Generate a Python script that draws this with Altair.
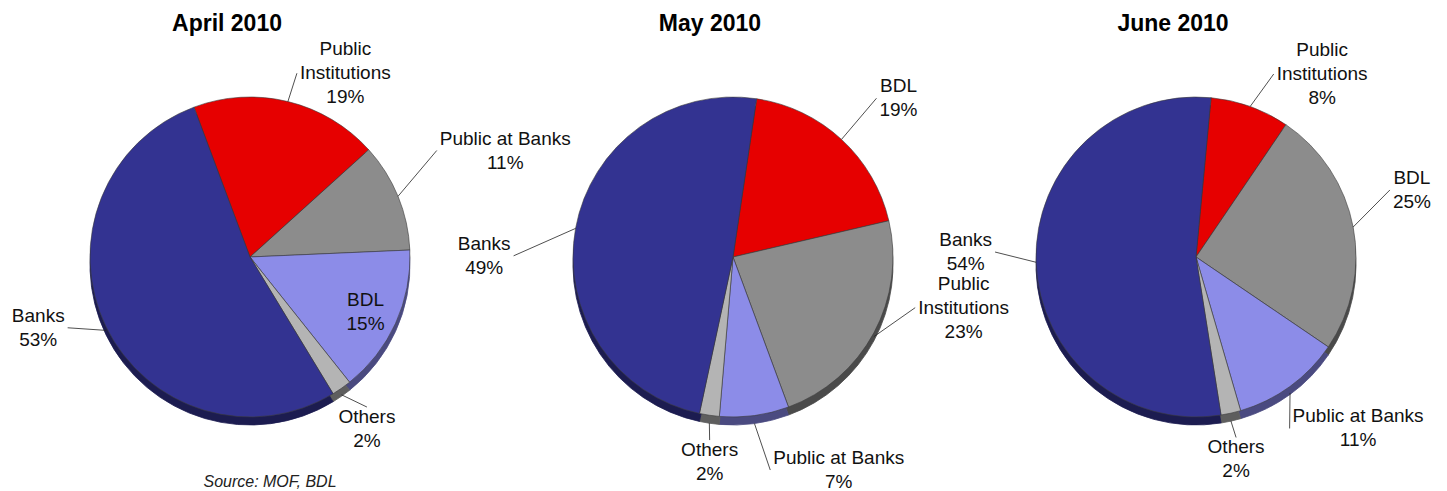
import json
import math

import altair as alt
import pandas as pd

# ---------------- data ----------------
MONTHS = ["April 2010", "May 2010", "June 2010"]

APRIL_CATEGORIES = ["Public Institutions", "Public at Banks", "BDL", "Others", "Banks"]
APRIL_SHARES = [19, 11, 15, 2, 53]

MAY_CATEGORIES = ["BDL", "Public Institutions", "Public at Banks", "Others", "Banks"]
MAY_SHARES = [19, 23, 7, 2, 49]

JUNE_CATEGORIES = ["Public Institutions", "BDL", "Public at Banks", "Others", "Banks"]
JUNE_SHARES = [8, 25, 11, 2, 54]

SOURCE_NOTE = "Source: MOF, BDL"

# ---------------- layout & style ----------------
W, H = 1447, 491
R = 160                      # pie radius (px)
DEPTH = 8                    # 3-D rim thickness (px)
CENTERS = [(250, 257), (733, 257), (1196, 257)]
FIRST_SLICE_DEG = [-20.5, 8.5, 5.4]
TITLE_OFFSET = -23
TITLE_BASELINE = 31
FONT = "Liberation Sans"
LABEL_SIZE = 19
LINE_HEIGHT = 24

# per label: (distance factor of radius, angular nudge in degrees), and placement mode
LABEL_POLAR = [
    [(1.19, 1.5), (1.36, -7), (0.80, 1), (1.30, 0.7), (1.24, 5)],
    [(1.35, 0), (1.20, -13), (1.355, -3), (1.29, -2), (1.39, -10)],
    [(1.25, 4), (1.30, -8), (1.23, 6.6), (1.29, 1.4), (1.275, 3.2)],
]
LABEL_ALIGN = [
    ["left", "left", "center", "center", "right"],
    ["left", "left", "left", "center", "right"],
    ["left", "left", "left", "center", "right"],
]

SLOT_COLORS = ["#E60000", "#8C8C8C", "#8C8CE8", "#B4B4B4", "#333391"]
SHADOW_COLORS = ["#7A0000", "#4A4A4A", "#4A4A80", "#5E5E5E", "#1C1C50"]

# Arial / Liberation Sans advance widths (1/1000 em) for label width estimates
ADV = {" ": 278, "%": 889, "B": 667, "D": 722, "I": 278, "L": 556, "O": 778,
       "P": 667, "a": 556, "b": 556, "c": 500, "e": 556, "h": 556, "i": 222,
       "k": 500, "l": 222, "n": 556, "o": 556, "r": 333, "s": 500, "t": 278,
       "u": 556}


def text_width(s, size):
    return sum(ADV.get(ch, 556) for ch in s) * size / 1000.0


def label_lines(cat, share):
    head = ["Public", "Institutions"] if cat == "Public Institutions" else [cat]
    return head + [f"{share}%"]


PANELS = [
    (APRIL_CATEGORIES, APRIL_SHARES),
    (MAY_CATEGORIES, MAY_SHARES),
    (JUNE_CATEGORIES, JUNE_SHARES),
]

layers = []
for i, (cats, shares) in enumerate(PANELS):
    cx, cy = CENTERS[i]
    rot = math.radians(FIRST_SLICE_DEG[i])
    lines = [label_lines(c, s) for c, s in zip(cats, shares)]
    df = pd.DataFrame({
        "category": cats,
        "share": shares,
        "slot": list(range(len(cats))),
        "label": ["\n".join(l) for l in lines],
        "hw": [max(text_width(t, LABEL_SIZE) for t in l) / 2 for l in lines],
        "rf": [p[0] for p in LABEL_POLAR[i]],
        "nudge": [p[1] for p in LABEL_POLAR[i]],
        "align": LABEL_ALIGN[i],
    })

    base = (
        alt.Chart(df)
        .transform_joinaggregate(total="sum(share)")
        .transform_window(cum="sum(share)", sort=[alt.SortField(field="slot", order="ascending")],
                          frame=[None, 0])
        .transform_calculate(
            a0=f"{rot} + 2*PI*(datum.cum - datum.share)/datum.total",
            a1=f"{rot} + 2*PI*datum.cum/datum.total",
        )
        .transform_calculate(
            mid="(datum.a0 + datum.a1)/2",
            fillc=f"{json.dumps(SLOT_COLORS)}[datum.slot]",
            shade=f"{json.dumps(SHADOW_COLORS)}[datum.slot]",
            lines="split(datum.label, '\\n')",
        )
        .transform_calculate(la="datum.mid + datum.nudge*PI/180")
        .transform_calculate(
            ax=f"{cx} + datum.rf*{R}*sin(datum.la)",
            ay=f"{cy} - datum.rf*{R}*cos(datum.la)",
            sx=f"{cx} + {R}*sin(datum.mid)",
            sy=f"{cy} - {R}*cos(datum.mid) + {DEPTH}*max(0, -cos(datum.mid))",
        )
        .transform_calculate(
            tx="datum.align == 'left' ? datum.ax + datum.hw : (datum.align == 'right' ? datum.ax - datum.hw : datum.ax)",
            ty=f"datum.ay - (length(datum.lines) - 1)*{LINE_HEIGHT}/2",
            ex="datum.align == 'left' ? datum.ax - 3 : (datum.align == 'right' ? datum.ax + 3 : datum.ax)",
            ey=f"datum.align == 'center' ? datum.ay - {LINE_HEIGHT - 2} : datum.ay",
        )
    )

    shadow = base.mark_arc(radius=R, strokeWidth=0.8).encode(
        theta=alt.Theta("a0:Q", scale=None),
        theta2="a1:Q",
        color=alt.Color("shade:N", scale=None),
        stroke=alt.Stroke("shade:N", scale=None),
        x=alt.value(cx),
        y=alt.value(cy + DEPTH),
    )
    pie = base.mark_arc(radius=R, stroke="#3a3a3a", strokeWidth=0.6).encode(
        theta=alt.Theta("a0:Q", scale=None),
        theta2="a1:Q",
        color=alt.Color("fillc:N", scale=None),
        x=alt.value(cx),
        y=alt.value(cy),
    )
    leaders = base.transform_filter("datum.rf >= 1").mark_rule(color="#222222", strokeWidth=0.8).encode(
        x=alt.X("sx:Q", scale=None, axis=None),
        y=alt.Y("sy:Q", scale=None, axis=None),
        x2="ex:Q",
        y2="ey:Q",
    )
    labels = base.mark_text(font=FONT, fontSize=LABEL_SIZE, lineHeight=LINE_HEIGHT,
                            align="center", baseline="middle", color="#111111").encode(
        x=alt.X("tx:Q", scale=None, axis=None),
        y=alt.Y("ty:Q", scale=None, axis=None),
        text="lines:N",
    )
    title = alt.Chart(pd.DataFrame({"t": [MONTHS[i]]})).mark_text(
        font=FONT, fontSize=23, fontWeight="bold", align="center", baseline="alphabetic", color="#000000"
    ).encode(x=alt.value(cx + TITLE_OFFSET), y=alt.value(TITLE_BASELINE), text="t:N")
    layers += [shadow, pie, leaders, labels, title]

source = alt.Chart(pd.DataFrame({"t": [SOURCE_NOTE]})).mark_text(
    font=FONT, fontSize=16, fontStyle="italic", align="center", baseline="alphabetic", color="#222222"
).encode(x=alt.value(270), y=alt.value(487), text="t:N")
layers.append(source)

chart = (
    alt.layer(*layers)
    .properties(width=W, height=H, padding=0, autosize="none", background="white")
    .configure_view(stroke=None)
)

chart.save("out.html", embed_options={"renderer": "svg", "actions": False})
